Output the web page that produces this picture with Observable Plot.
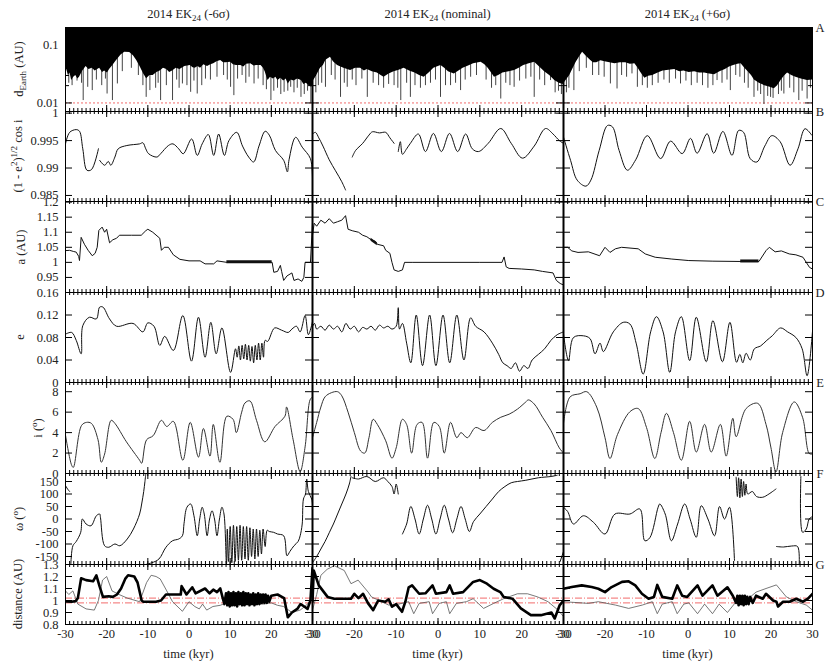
<!DOCTYPE html>
<html><head><meta charset="utf-8">
<script src="https://cdn.jsdelivr.net/npm/d3@7"></script>
<script src="https://cdn.jsdelivr.net/npm/@observablehq/plot@0.6"></script>
<style>
body{margin:0;background:#fff;}
#chart{position:relative;width:830px;height:665px;font-family:"Liberation Serif","Times New Roman",serif;color:#222;overflow:hidden;}
.lbl{position:absolute;font-size:12.5px;white-space:nowrap;line-height:1;transform:translate(-50%,-50%);}
.ylab{position:absolute;font-size:12.5px;white-space:nowrap;line-height:1;transform:translate(-50%,-50%) rotate(-90deg);}
sub,sup{font-size:72%;line-height:0;}
</style></head><body><div id="chart"></div><script>
// ---------- tick values ----------
const X_MAJOR = [-30,-20,-10,0,10,20,30];
const X_MINOR = d3.range(-30,31,1);
const YT_A = [0.01,0.1];
const YT_A_MINOR = [0.02,0.03,0.04,0.05,0.06,0.07,0.08,0.09,0.2];
const YT_B = [0.985,0.99,0.995,1];
const YT_C = [0.95,1,1.05,1.1,1.15,1.2];
const YT_D = [0,0.04,0.08,0.12,0.16];
const YT_E = [0,2,4,6,8];
const YT_F = [-150,-100,-50,0,50,100,150];
const YT_G = [0.8,0.9,1,1.1,1.2,1.3];
const TITLES = ["2014 EK<sub>24</sub> (-6σ)","2014 EK<sub>24</sub> (nominal)","2014 EK<sub>24</sub> (+6σ)"];
const YLABELS = ["d<sub>Earth</sub> (AU)","(1 - e<sup>2</sup>)<sup>1/2</sup> cos i","a (AU)","e","i (<sup>o</sup>)","ω (<sup>o</sup>)","distance (AU)"];
const ROWLETTERS = ["A","B","C","D","E","F","G"];
const N = NaN;

// ---------- A: distance to Earth (lower envelope + close-approach spikes) ----------
const aEnvL = [[-30,0.0448],[-29.6,0.036],[-29.3,0.03],[-28.9,0.033],[-28.5,0.0245],[-28,0.028],[-27.5,0.03],[-27,0.026],[-26.6,0.028],[-25.8,0.036],[-25,0.043],[-24.3,0.038],[-23.5,0.04],[-22.8,0.036],[-21.7,0.04],[-21,0.034],[-20.5,0.036],[-19.8,0.033],[-19.3,0.038],[-18.5,0.045],[-17.6,0.0547],[-16.5,0.068],[-15.6,0.0764],[-14.4,0.075],[-13.5,0.066],[-12.7,0.0547],[-11.9,0.043],[-11,0.032],[-10.3,0.0263],[-9.5,0.03],[-8.7,0.03],[-7.8,0.034],[-7,0.036],[-6.2,0.04],[-5.4,0.038],[-4.7,0.034],[-4,0.036],[-3.1,0.04],[-2.2,0.038],[-1,0.043],[0.3,0.0448],[1,0.041],[1.5,0.04],[2.2,0.043],[2.8,0.04],[3.6,0.046],[4.5,0.043],[5.3,0.046],[6,0.048],[6.8,0.052],[7.7,0.0547],[8.4,0.05],[9,0.05],[10.1,0.051],[10.8,0.046],[11.5,0.045],[12.6,0.0448],[13.3,0.042],[14,0.047],[15,0.048],[15.8,0.044],[16.5,0.045],[17.5,0.0448],[18.1,0.04],[18.5,0.035],[19.2,0.0245],[19.8,0.028],[20.5,0.026],[21.1,0.028],[21.6,0.0245],[22.3,0.027],[23,0.024],[23.6,0.026],[24.1,0.0214],[24.8,0.025],[25.5,0.024],[26.4,0.026],[27.3,0.0245],[27.9,0.021],[28.5,0.022],[29.2,0.02],[29.8,0.0188],[30,0.02]];
const aSpkL = [[-29.2,0.022],[-28.4,0.02],[-27.2,0.024],[-26.1,0.022],[-25.7,0.011],[-24.6,0.0187],[-23.5,0.0164],[-22.5,0.025],[-21.2,0.02],[-20.3,0.026],[-19.9,0.0143],[-18.6,0.011],[-17.4,0.0214],[-16.2,0.035],[-14,0.04],[-12.3,0.03],[-11.2,0.02],[-10.4,0.0125],[-9.5,0.0164],[-8.1,0.018],[-7.5,0.022],[-6.9,0.011],[-5.5,0.02],[-4,0.011],[-3,0.025],[-2.4,0.018],[-1.6,0.0214],[-0.5,0.02],[0.4,0.0153],[1.2,0.024],[2,0.0143],[3.1,0.02],[4,0.026],[5.2,0.025],[6.8,0.028],[8.4,0.03],[9.3,0.025],[10.1,0.0187],[10.9,0.0134],[11.8,0.026],[12.9,0.03],[13.8,0.022],[14.6,0.028],[15.8,0.0214],[16.8,0.026],[18,0.02],[18.8,0.017],[19.9,0.011],[20.6,0.016],[21.5,0.018],[22.3,0.014],[23.1,0.0153],[24,0.016],[24.7,0.0187],[25.5,0.015],[26.3,0.018],[27.2,0.0125],[28,0.014],[28.8,0.016],[29.6,0.0098]];
const aEnvM = [[-30,0.03],[-29.7,0.0245],[-29,0.03],[-28.1,0.04],[-27.4,0.045],[-26.8,0.055],[-25.7,0.0626],[-25,0.052],[-24,0.045],[-23.2,0.042],[-22.5,0.04],[-21.6,0.038],[-20.9,0.0366],[-19.7,0.04],[-18.5,0.04],[-17.6,0.036],[-16.9,0.038],[-15.7,0.035],[-14.5,0.033],[-13.6,0.03],[-12.9,0.028],[-11.7,0.032],[-10.5,0.035],[-9.3,0.037],[-8.1,0.04],[-6.8,0.036],[-5.5,0.033],[-4.4,0.03],[-3.3,0.028],[-2,0.034],[-1,0.04],[0.7,0.0448],[1.6,0.04],[2.5,0.035],[3.9,0.032],[5,0.036],[6,0.04],[7.3,0.044],[8.5,0.048],[10.3,0.051],[11.2,0.046],[12,0.04],[12.8,0.033],[13.5,0.028],[14.5,0.03],[15.5,0.033],[17,0.035],[18.3,0.0366],[19.4,0.04],[20.5,0.045],[21.8,0.048],[23.1,0.051],[24.3,0.042],[25.5,0.035],[26.7,0.03],[27.9,0.0245],[29,0.022],[30,0.021]];
const aSpkM = [[-29.2,0.015],[-28.6,0.02],[-27.8,0.022],[-26.9,0.0187],[-25.5,0.03],[-24.6,0.025],[-23.3,0.0125],[-22.4,0.022],[-21.7,0.0187],[-20.5,0.025],[-19.6,0.02],[-18.2,0.026],[-16.9,0.0125],[-15.5,0.022],[-14.2,0.02],[-13,0.018],[-11.8,0.021],[-10.5,0.02],[-9.6,0.018],[-8.9,0.011],[-7.5,0.022],[-6.6,0.0125],[-5.5,0.02],[-4.2,0.018],[-3,0.02],[-1.8,0.022],[-0.6,0.025],[0.6,0.0125],[1.8,0.02],[3,0.02],[4.2,0.022],[5.4,0.0164],[6.5,0.025],[7.8,0.028],[9.2,0.03],[11.5,0.025],[12.8,0.018],[13.8,0.02],[15,0.0117],[16.2,0.022],[17.2,0.02],[18.2,0.0187],[19.5,0.024],[21,0.026],[22.2,0.028],[23,0.0125],[24.3,0.025],[25.5,0.02],[26.9,0.0245],[28,0.015],[28.8,0.016],[29.5,0.014]];
const aEnvR = [[-30,0.0214],[-29.3,0.025],[-28.5,0.03],[-27.8,0.038],[-27,0.05],[-26.2,0.062],[-25.4,0.0764],[-24.5,0.065],[-23.5,0.055],[-22.8,0.05],[-22,0.05],[-21,0.054],[-20,0.052],[-18.8,0.05],[-17.6,0.048],[-16.3,0.05],[-15,0.05],[-13.9,0.047],[-12.8,0.048],[-12,0.04],[-11.5,0.035],[-10.4,0.027],[-9.5,0.029],[-8.5,0.03],[-7.2,0.033],[-6,0.036],[-4.6,0.037],[-3.2,0.038],[-2,0.035],[-1,0.036],[0.3,0.034],[1.6,0.035],[2.8,0.033],[4,0.033],[5.2,0.032],[6.4,0.031],[7.7,0.035],[9,0.038],[10,0.042],[11,0.045],[12,0.047],[12.8,0.048],[13.7,0.04],[14.5,0.035],[15.3,0.03],[16,0.025],[17.2,0.022],[18.5,0.02],[19.6,0.019],[20.8,0.0176],[21.6,0.02],[22.5,0.025],[23.2,0.029],[24,0.033],[25,0.03],[26,0.028],[27.3,0.026],[28.8,0.0245],[30,0.025]];
const aSpkR = [[-29.3,0.015],[-28.7,0.018],[-27.5,0.0164],[-26.2,0.035],[-24.5,0.04],[-23,0.03],[-21.5,0.03],[-20.2,0.028],[-18.7,0.0214],[-17.1,0.0175],[-16,0.03],[-14.8,0.028],[-13.5,0.032],[-12.2,0.0187],[-11,0.02],[-9.8,0.018],[-8.6,0.02],[-7.2,0.022],[-5.8,0.025],[-4.5,0.022],[-3,0.026],[-1.8,0.0214],[-0.5,0.024],[0.8,0.02],[2.2,0.022],[3.5,0.02],[4.8,0.018],[6,0.02],[7,0.0245],[8.2,0.022],[9.4,0.025],[10.2,0.0164],[11.5,0.03],[12.5,0.028],[13.6,0.022],[14.5,0.018],[15.9,0.0125],[16.8,0.016],[17.5,0.014],[18.3,0.0094],[19.2,0.013],[19.9,0.0125],[20.5,0.012],[21.8,0.014],[22.5,0.016],[23.1,0.0143],[24.5,0.018],[25.5,0.015],[26.7,0.011],[27.5,0.016],[28.7,0.0117],[29.5,0.018]];
const aLimit = [0.01];

// ---------- B: (1-e^2)^1/2 cos i ----------
const bL = [[-30,0.9944],[-29,0.9965],[-27.4,0.997],[-26.6,0.9967],[-25.8,0.9935],[-24.8,0.9896],[-23.7,0.9897],[-22,0.9935],[-21.9,N],[-21.7,0.9914],[-20.5,0.9905],[-19.6,0.9912],[-19,0.9905],[-18,0.992],[-17.2,0.9935],[-15.1,0.9941],[-12,0.9944],[-11.2,0.9946],[-10.5,0.9935],[-9.8,0.9926],[-7.8,0.992],[-6.9,0.9926],[-5,0.9941],[-3.9,0.9944],[-2.5,0.9935],[-1.4,0.9926],[0.65,0.9953],[2,0.9923],[3.2,0.9944],[4.7,0.9961],[6,0.9923],[7.2,0.9962],[8.6,0.9923],[9.7,0.995],[11.6,0.9965],[13,0.994],[14.5,0.992],[15.7,0.9911],[17,0.994],[18.5,0.9967],[19.5,0.996],[21,0.9932],[23,0.9914],[23.9,0.9893],[24.3,0.9915],[25.9,0.9956],[27.5,0.9938],[29.5,0.9917],[30,0.988]];
const bM = [[-30,0.9962],[-29.3,0.9965],[-28.5,0.9955],[-27.5,0.994],[-26,0.9915],[-24.5,0.9895],[-23,0.9875],[-22.1,0.986],[-21.8,N],[-20.5,0.992],[-19.7,0.9932],[-18,0.9945],[-16.5,0.996],[-15.7,0.9966],[-14,0.9964],[-12.5,0.9965],[-11.5,0.9955],[-10.5,0.9945],[-10,N],[-9.5,0.993],[-9,0.9948],[-8.5,0.9925],[-7.5,0.9935],[-6.6,0.9945],[-4.7,0.9962],[-3,0.993],[-1.1,0.9963],[0.8,0.993],[2.75,0.9963],[4.7,0.993],[6.6,0.9962],[8.2,0.9935],[9.7,0.993],[12,0.9945],[15,0.9972],[17.5,0.9945],[20.2,0.9918],[23,0.994],[25.7,0.9972],[27.5,0.9962],[29,0.995],[30,0.9945]];
const bR = [[-30,0.99563],[-28.3,0.9914],[-26.7,0.98779],[-24.6,0.9867],[-23.4,0.9878],[-21.4,0.99322],[-19.4,0.99775],[-18.2,0.9975],[-16.6,0.9932],[-14.6,0.9896],[-12.6,0.9915],[-9.8,0.9959],[-6.6,0.99172],[-4.2,0.9949],[-1.4,0.99263],[0.6,0.9954],[2.2,0.9927],[4.6,0.99625],[6.2,0.9927],[8.4,0.99667],[10.6,0.99232],[12.2,0.99685],[13.4,0.9965],[15,0.9917],[16.6,0.9911],[18.5,0.994],[20.2,0.9959],[22.2,0.9948],[24.6,0.99051],[26.5,0.9935],[28.2,0.99716],[29.8,0.996]];

// ---------- C: semi-major axis ----------
const cL = [[-30,1.039],[-29,1.04],[-28,1.036],[-27.4,1.034],[-26.8,1.02],[-26.6,1.006],[-26.2,1.083],[-25.4,1.06],[-24.5,1.04],[-23.5,1.022],[-22.8,1.03],[-22.3,1.05],[-21.9,1.106],[-21.1,1.117],[-20.5,1.1],[-20,1.11],[-19.3,1.065],[-18.5,1.075],[-17.6,1.08],[-16.9,1.09],[-14,1.09],[-11.6,1.09],[-10.5,1.105],[-10,1.11],[-8.8,1.1],[-7.1,1.08],[-6.7,1.04],[-6,1.05],[-5,1.05],[-3.8,1.025],[-2.2,1.01],[0,1.005],[2.7,1.005],[3.9,0.995],[6,0.995],[6.8,1.005],[9.2,1.0],[20.2,1.0],[20.6,0.967],[21.5,0.97],[22.2,0.99],[22.5,0.97],[23,0.94],[23.8,0.955],[25,0.965],[25.5,0.94],[26.5,0.945],[27.4,0.937],[27.9,0.95],[28.2,1.0],[29.5,1.0],[30,1.13]];
const cBandL = [[9.2,0.995,1.005],[20.2,0.995,1.005]];
const cM = [[-30,1.09],[-29.6,1.13],[-29,1.12],[-28,1.14],[-27,1.13],[-26,1.145],[-25,1.13],[-24,1.135],[-23,1.14],[-22.1,1.155],[-21.5,1.11],[-20.5,1.105],[-19,1.1],[-18,1.09],[-17,1.085],[-16,1.075],[-15,1.07],[-14.5,1.06],[-13,1.055],[-12.5,1.04],[-11.5,1.03],[-11,1.0],[-10.5,0.975],[-9.5,0.97],[-8.5,0.975],[-8,1.0],[-6,1.0],[0,1.0],[10,1.0],[15.3,1.0],[15.8,1.018],[16.3,0.985],[17,0.98],[20,0.978],[23,0.975],[25,0.97],[27.5,0.965],[28.3,0.94],[29.2,0.93],[30,0.925]];
const cBandM = [[-16,1.07,1.08],[-14.5,1.055,1.065]];
const cR = [[-30,1.05],[-29,1.05],[-28,1.038],[-26.5,1.033],[-24,1.035],[-21.3,1.022],[-20,1.05],[-18.8,1.033],[-17.5,1.045],[-16,1.05],[-12,1.045],[-10.3,1.028],[-7.9,1.017],[-3.9,1.011],[0.2,1.006],[6,1.004],[12.3,1.003],[17.1,1.003],[18.8,1.039],[19.6,1.05],[21,1.035],[22.5,1.038],[24.4,1.028],[26,1.025],[27.7,1.017],[28.5,1.0],[29.3,0.983],[30,0.978]];
const cBandR = [[12.7,0.998,1.008],[17.1,0.998,1.008]];

// ---------- D: eccentricity ----------
const dL = [[-30,0.086],[-28.5,0.089],[-27.4,0.075],[-26.2,0.051],[-25.8,0.101],[-24.2,0.116],[-22.5,0.113],[-21.7,0.134],[-20.9,0.134],[-19.3,0.113],[-17.6,0.1],[-13.6,0.105],[-11.2,0.09],[-10,0.106],[-8.5,0.1],[-7.1,0.066],[-5.9,0.082],[-3.8,0.057],[-1.5,0.119],[0.6,0.038],[2.3,0.116],[3.9,0.045],[5.3,0.107],[6.6,0.051],[8,0.097],[10.1,0.018],[11.3,0.06],[11.7,0.045],[12.1,0.065],[12.5,0.04],[12.9,0.066],[13.3,0.042],[13.7,0.068],[14.1,0.04],[14.5,0.066],[14.9,0.038],[15.3,0.064],[15.7,0.035],[16.1,0.066],[16.5,0.04],[16.9,0.07],[17.3,0.04],[17.7,0.07],[18.1,0.045],[18.5,0.075],[19.1,0.073],[20.8,0.097],[22.5,0.093],[24.1,0.089],[25,0.095],[26.1,0.1],[27,0.09],[28.2,0.119],[29,0.085],[30,0.108]];
const dM = [[-30,0.1],[-29.5,0.105],[-29,0.095],[-28,0.1],[-27,0.093],[-26,0.102],[-25,0.095],[-24,0.1],[-23,0.09],[-22,0.105],[-21,0.095],[-20,0.1],[-19,0.09],[-18,0.098],[-17,0.095],[-16,0.1],[-15,0.093],[-14,0.102],[-13,0.097],[-12,0.1],[-11,0.095],[-10,0.1],[-9.5,0.133],[-9.2,0.095],[-8.5,0.105],[-7.5,0.07],[-6.5,0.035],[-5.2,0.12],[-3.7,0.03],[-2,0.12],[-0.5,0.03],[1.2,0.12],[2.8,0.035],[4.5,0.12],[6.2,0.04],[7.8,0.115],[9,0.1],[11,0.09],[13,0.07],[14.5,0.05],[15.5,0.035],[16.5,0.03],[17.5,0.025],[18.5,0.035],[19.5,0.02],[20.5,0.03],[21.5,0.025],[22.5,0.04],[24,0.05],[25.5,0.06],[27,0.075],[28.5,0.085],[30,0.09]];
const dR = [[-30,0.086],[-28.8,0.039],[-27.6,0.08],[-25.2,0.083],[-23.6,0.078],[-22.4,0.051],[-21.2,0.07],[-20.4,0.055],[-18,0.09],[-15.6,0.107],[-14,0.104],[-12.5,0.07],[-10.8,0.015],[-9,0.09],[-7.6,0.117],[-6,0.09],[-4.4,0.018],[-3,0.09],[-1.6,0.117],[0.4,0.039],[2,0.116],[4.4,0.037],[6,0.11],[8.3,0.037],[10.1,0.107],[11.7,0.036],[12.5,0.05],[13.2,0.035],[14,0.052],[15,0.04],[16,0.06],[17.5,0.065],[19,0.075],[20.3,0.083],[22.3,0.097],[24,0.09],[26,0.08],[27.5,0.06],[28.7,0.012],[30,0.091]];

// ---------- E: inclination ----------
const eL = [[-30,3.75],[-28.5,0.8],[-28.1,0.6],[-26.1,4.7],[-24.9,5.0],[-23.7,4.9],[-22.1,3.3],[-21.3,1.1],[-20.5,1.9],[-18.9,5.2],[-18,4.9],[-15.2,3.1],[-12,1.3],[-11.5,1.0],[-10.3,3.3],[-8.7,3.7],[-6.7,5.2],[-5.4,4.6],[-3.8,5.1],[-1.5,1.3],[0.3,5.0],[2.3,1.6],[3.5,4.4],[5.1,1.7],[5.9,4.8],[7.5,1.1],[9.2,5.6],[10.7,5.3],[11.5,4.0],[12.8,6.0],[13.6,6.9],[14.8,7.1],[16.4,5.2],[18.4,3.1],[20.9,4.6],[23.3,5.6],[23.7,6.5],[25.3,3.3],[27,0.2],[28.2,2.6],[29.4,7.2],[30,7.5]];
const eM = [[-30,3.5],[-29,5],[-28,6.5],[-27,7.5],[-25.5,7.9],[-24,8],[-23,7.6],[-21.5,6],[-20,4],[-18.5,2.2],[-17.5,2.0],[-16.5,3.5],[-15.5,5.3],[-14.5,4.8],[-12.5,3.2],[-11,1.5],[-10,2.5],[-8.5,5.3],[-7.5,4.8],[-6.3,2.0],[-5,4.8],[-3.8,5.0],[-2.5,1.5],[-1,5.0],[0.3,4.6],[1.5,2.0],[3,5.0],[4.5,3.5],[5.5,4.0],[7,3.5],[9,4.5],[11,4.2],[13,5],[15,5.5],[17,5.8],[19,6.3],[21,7],[21.6,7.2],[23,6.8],[25,5.5],[27,4.2],[29,2.5],[30,2]];
const eR = [[-30,4.9],[-28.4,7.5],[-26,7.8],[-24.4,8.0],[-22,6.5],[-20,3.5],[-18.8,1.47],[-17,3.8],[-14,6.04],[-12,6.35],[-10,4.5],[-8,1.47],[-6.5,4],[-5.2,5.88],[-3.5,4],[-1.6,1.3],[0.4,5.1],[2,2.1],[4,4.8],[5.6,2.1],[7.8,4.8],[9.2,1.7],[10.8,5.4],[11.6,3.6],[14,6.35],[16.8,6.86],[18.8,4.8],[20,2.5],[21.2,0.16],[22.8,4],[25.6,7.0],[27.6,5.5],[29.2,1.96],[30,1.9]];

// ---------- F: argument of perihelion (wrapped) ----------
const fL = [[-30,134],[-29.5,120],[-29,110],[-28.9,N],[-28.7,-180],[-28.2,-107],[-27.4,-90],[-26.3,-53],[-25.9,0],[-25,-20],[-23.8,-27],[-22.5,13],[-21.7,20],[-21.5,5],[-20.5,-107],[-19.5,-113],[-18,-100],[-16.8,-107],[-15,-80],[-13.5,-40],[-12,20],[-11.5,60],[-11,110],[-10.7,150],[-10.5,180],[-10.4,N],[-10.2,-180],[-9,-175],[-7.3,-160],[-5.6,-113],[-4,-87],[-2.5,-80],[-1.6,-67],[-1.2,-17],[-0.5,47],[0.4,60],[1.2,13],[2,-67],[2.6,0],[3.2,47],[3.7,20],[4.4,-67],[5,0],[5.6,33],[6.2,0],[6.8,-67],[7.4,0],[8,47],[8.5,20],[9.1,-180],[9.3,-40],[9.6,-170],[10,-30],[10.4,-175],[10.8,-25],[11.2,-170],[11.6,-30],[12,-165],[12.4,-25],[12.8,-165],[13.2,-30],[13.6,-160],[14,-30],[14.4,-165],[14.8,-35],[15.2,-150],[15.6,-40],[16,-160],[16.4,-40],[16.8,-150],[17.2,-45],[17.6,-140],[18,-40],[18.5,-110],[19,-45],[19.5,-50],[20.5,-53],[21.5,-60],[23,-67],[23.8,-147],[24.5,-130],[25.5,-107],[26.5,-90],[27,-67],[27.5,-20],[27.8,80],[28.3,100],[28.6,160],[29,110],[29.8,80],[30,60]];
const fM = [[-30,-175],[-29,-150],[-28,-120],[-27,-90],[-26,-55],[-25,-20],[-24,20],[-23,60],[-22,100],[-21.2,140],[-20.8,170],[-20.6,N],[-20.5,165],[-19,160],[-17,170],[-15,150],[-13,165],[-12,150],[-11,130],[-10.5,100],[-10,140],[-9.5,100],[-9.3,N],[-8.5,-60],[-7.5,-20],[-6.5,50],[-5.5,0],[-4.5,-60],[-3.5,0],[-2.5,55],[-1.5,0],[-0.5,-60],[0.5,0],[1.5,55],[2.5,0],[3.5,-55],[4.5,0],[5.5,50],[6.5,0],[7.5,-50],[8.5,-10],[10,20],[11.5,50],[13,80],[14.5,110],[16,130],[17.5,145],[19,150],[21,155],[24,165],[27,170],[28.5,175],[29,N],[29.2,-170],[30,-130]];
const fR = [[-30,47],[-29,30],[-27.6,-20],[-25.2,13],[-22.8,-13],[-20,-60],[-17.6,20],[-14,20],[-11.6,40],[-10.4,-87],[-9.2,-75],[-7.2,47],[-6.8,60],[-5.5,20],[-4,-87],[-2.5,-20],[-0.8,60],[0.5,0],[2,-73],[3.2,53],[4.8,0],[6.4,-67],[7.6,50],[8.8,0],[10,47],[11.2,-166],[11.3,N],[11.6,167],[11.9,90],[12.2,165],[12.5,85],[12.8,160],[13.1,90],[13.4,150],[13.7,95],[14,140],[14.4,100],[15.5,110],[16.5,90],[18,87],[19.5,100],[21.2,120],[21.3,N],[21.3,-110],[23,-112],[25,-108],[26.4,-110],[26.8,-180],[26.9,N],[27.2,170],[27.6,-53],[28.5,-40],[29.2,0],[30,10]];

// ---------- G: distances (thick / thin) ----------
const gThickL = [[-30,0.992],[-28.5,0.99],[-27.5,0.995],[-27,1.02],[-26.2,1.185],[-25,1.17],[-23.3,1.16],[-22.5,1.21],[-21.7,1.115],[-20.9,1.03],[-19.5,1.035],[-18.5,1.03],[-17.5,1.05],[-16.5,1.1],[-15.5,1.18],[-14.8,1.21],[-13.3,1.2],[-12.5,1.15],[-11.5,1.0],[-11.1,0.99],[-8,0.99],[-6.8,1.0],[-5.6,1.05],[-3,1.05],[-2,1.05],[-1.8,1.12],[-0.6,1.05],[0.8,1.11],[1.6,1.06],[3.9,1.1],[5,1.06],[5.9,1.09],[6.8,1.07],[7.6,1.1],[8.2,1.02],[8.6,0.97],[9,1.06],[9.3,0.96],[9.6,1.07],[9.9,0.95],[10.2,1.06],[10.5,0.96],[10.8,1.07],[11.1,0.96],[11.4,1.06],[11.7,0.95],[12,1.07],[12.3,0.97],[12.6,1.06],[12.9,0.96],[13.2,1.07],[13.5,0.96],[13.8,1.06],[14.1,0.97],[14.4,1.06],[14.7,0.96],[15,1.05],[15.3,0.97],[15.6,1.06],[15.9,0.96],[16.2,1.05],[16.5,0.97],[16.8,1.06],[17.1,0.97],[17.4,1.05],[17.7,0.98],[18,1.05],[18.3,0.98],[18.6,1.05],[18.9,0.98],[19.2,1.04],[19.5,0.99],[20,1.04],[21.5,1.05],[23.1,1.02],[23.5,0.95],[24,0.86],[25,0.9],[26.3,0.93],[27.1,0.97],[28,0.95],[28.8,0.93],[29.5,1.0],[30,1.27]];
const gThinL = [[-30,1.08],[-29.2,1.05],[-28.2,1.08],[-27,0.97],[-25,0.93],[-23,0.92],[-22,1.0],[-21,1.17],[-20,1.2],[-18.7,1.08],[-17,1.05],[-15,1.02],[-12,0.99],[-10.3,1.15],[-9.2,1.21],[-8,1.2],[-7,1.18],[-5.4,1.08],[-4,0.99],[-1.6,0.91],[0,0.99],[1.4,0.95],[2.5,0.93],[3.3,0.97],[4.3,0.92],[5.8,0.95],[7.6,0.96],[9,0.98],[12,0.99],[15,0.98],[18,0.97],[20,0.98],[21.5,0.96],[23,0.95],[25,0.9],[27,0.92],[28.5,0.96],[30,1.02]];
const gThickM = [[-30,0.99],[-29.7,1.25],[-28.5,1.126],[-26.4,1.03],[-24.8,1.015],[-20.8,1.015],[-20,1.056],[-19,1.02],[-17.9,1.056],[-16.7,0.976],[-15.5,0.92],[-14.3,1.0],[-12.6,0.99],[-11.8,1.01],[-11,0.948],[-10,0.97],[-8.6,0.906],[-7.8,0.99],[-7,1.11],[-6.2,1.126],[-4.5,1.056],[-3,1.06],[-1.3,1.126],[-0.5,1.056],[2,1.07],[2.8,1.126],[3.6,1.056],[6,1.07],[8.4,1.155],[10,1.17],[11.7,1.14],[13.3,1.098],[14.9,1.07],[15.7,1.03],[17.8,1.015],[19.8,0.934],[22.2,0.878],[24.6,0.878],[27.1,0.9],[27.9,0.85],[29.1,0.962],[30,1.0]];
const gThinM = [[-30,0.92],[-29,1.05],[-28,1.21],[-26.5,1.26],[-24.8,1.29],[-22.4,1.25],[-20.8,1.14],[-19.1,1.17],[-16.7,1.07],[-15.9,1.03],[-13.5,0.99],[-11.8,0.962],[-9.4,0.97],[-7,0.99],[-5.8,0.89],[-4.5,0.976],[-2.1,0.99],[-1.3,0.89],[0.3,0.976],[2,0.99],[2.8,0.89],[4.4,0.976],[6.8,0.99],[8.4,1.015],[10.9,0.934],[13.3,0.976],[15.7,1.015],[19,1.056],[21.4,1.056],[23.8,1.03],[26.3,0.99],[28.7,0.92],[30,0.866]];
const gThickR = [[-30,1.098],[-28,1.112],[-25.6,1.126],[-23.2,1.112],[-21.6,1.098],[-20,1.07],[-18.4,1.112],[-15.9,1.155],[-14.3,1.16],[-12.7,1.126],[-11.1,1.056],[-9.5,1.015],[-8.2,1.03],[-7.4,1.13],[-6.2,1.03],[-3.8,1.015],[-2.6,1.126],[-1.4,1.04],[-0.2,1.03],[2.3,1.126],[3.5,1.04],[5.9,1.126],[7.1,1.04],[9.5,1.11],[10.8,1.04],[11.6,0.98],[11.9,1.04],[12.2,0.96],[12.5,1.04],[12.8,0.97],[13.1,1.04],[13.4,0.96],[13.7,1.04],[14,0.97],[14.3,1.03],[14.6,0.97],[15,1.03],[15.6,0.98],[16.4,1.04],[18,1.015],[18.8,1.056],[20.5,1.0],[21.3,0.99],[21.7,0.95],[22.9,0.99],[24.5,0.99],[26.1,1.015],[27.7,0.99],[28.9,1.015],[30,1.056]];
const gThinR = [[-30,0.99],[-24,0.976],[-21.6,0.99],[-17.5,0.962],[-14.3,0.934],[-11,0.962],[-8.6,0.99],[-7.4,0.89],[-6.2,0.97],[-3.8,0.99],[-2.6,0.89],[-1,0.97],[0.2,0.98],[2.3,0.89],[4,0.97],[5.9,0.89],[7.5,0.97],[9.5,0.9],[11.6,0.99],[14,1.0],[16.4,1.07],[18.8,1.1],[21.3,1.13],[23.7,1.03],[26.1,0.99],[28.5,0.962],[30,0.92]];
const gLimits = [1.02,0.98];

// ---------- layout ----------
const cols = [[65,247],[312,251],[563,249]];
const rows = [[27,84],[111,90],[201,91],[292,90],[382,91],[473,91],[564,60]];
const chart = document.getElementById("chart");
const px = d=>d[0], py = d=>d[1];
const RED = "#f26b6b";
const FONT = "Liberation Serif, Times New Roman, serif";
const EDGE = [-30];

function line(data, o={}) { return Plot.line(data, {x:px, y:py, stroke:"#111", strokeWidth:1, clip:true, ...o}); }
function band(data) { return Plot.areaY(data, {x:px, y1:d=>d[1], y2:d=>d[2], fill:"#111", clip:true}); }

function panel(ci, ri, y, yt, marks, yminor) {
  const [left,w] = cols[ci], [top,h] = rows[ri];
  const m = [...marks];
  m.push(Plot.tickX(X_MINOR, {x:d=>d, insetBottom:h-3, stroke:"#000"}));
  m.push(Plot.tickX(X_MINOR, {x:d=>d, insetTop:h-3, stroke:"#000"}));
  m.push(Plot.tickX(X_MAJOR, {x:d=>d, insetBottom:h-6, stroke:"#000"}));
  m.push(Plot.tickX(X_MAJOR, {x:d=>d, insetTop:h-6, stroke:"#000"}));
  m.push(Plot.tickY(yt, {y:d=>d, insetRight:w-7, stroke:"#000"}));
  m.push(Plot.tickY(yt, {y:d=>d, insetLeft:w-7, stroke:"#000"}));
  if (yminor) {
    m.push(Plot.tickY(yminor, {y:d=>d, insetRight:w-4, stroke:"#000", clip:true}));
    m.push(Plot.tickY(yminor, {y:d=>d, insetLeft:w-4, stroke:"#000", clip:true}));
  }
  m.push(Plot.frame({stroke:"#000", strokeWidth:1}));
  if (ci>0) m.push(Plot.ruleX(EDGE, {x:d=>d, stroke:"#000", strokeWidth:2}));
  if (ci===0) m.push(Plot.text(yt, {y:d=>d, frameAnchor:"left", dx:-7, textAnchor:"end", text:d=>String(d), fill:"#222", fontSize:12.5, fontFamily:FONT}));
  if (ri===6) m.push(Plot.text(X_MAJOR, {x:d=>d, frameAnchor:"bottom", dy:13, text:d=>String(d), fill:"#222", fontSize:12.5, fontFamily:FONT}));
  const svg = Plot.plot({
    width:w, height:h, margin:0,
    x:{domain:[-30,30], axis:null},
    y:{...y, axis:null},
    style:{overflow:"visible", fontFamily:FONT, fontSize:"12.5px", background:"none"},
    marks:m
  });
  svg.style.position="absolute"; svg.style.left=left+"px"; svg.style.top=top+"px";
  chart.appendChild(svg);
}

const Y_A = {type:"log", domain:[0.0071,0.205]};
const Y_B = {domain:[0.9839,1.0003]};
const Y_C = {domain:[0.9,1.202]};
const Y_D = {domain:[0,0.16]};
const Y_E = {domain:[0,8.9]};
const Y_F = {domain:[-182,182]};
const Y_G = {domain:[0.8,1.3]};

const envs = [[aEnvL,aSpkL],[aEnvM,aSpkM],[aEnvR,aSpkR]];
const Bs=[bL,bM,bR], Cs=[[cL,cBandL],[cM,cBandM],[cR,cBandR]], Ds=[dL,dM,dR], Es=[eL,eM,eR], Fs=[fL,fM,fR];
const Gs=[[gThickL,gThinL],[gThickM,gThinM],[gThickR,gThinR]];
const SMOOTH = {curve:"catmull-rom"};

for (let ci=0; ci<3; ci++) {
  const [env, spk] = envs[ci];
  panel(ci,0,Y_A,YT_A,[
    Plot.ruleY(aLimit, {y:d=>d, stroke:RED, strokeDasharray:"2,2"}),
    Plot.ruleX(spk, {x:px, y1:py, y2:()=>0.2, stroke:"#444", strokeWidth:1}),
    Plot.areaY(env, {x:px, y1:py, y2:()=>0.205, fill:"#000"})
  ], YT_A_MINOR);
  panel(ci,1,Y_B,YT_B,[line(Bs[ci], SMOOTH)]);
  panel(ci,2,Y_C,YT_C,[line(Cs[ci][0]), band(Cs[ci][1])]);
  panel(ci,3,Y_D,YT_D,[line(Ds[ci], SMOOTH)]);
  panel(ci,4,Y_E,YT_E,[line(Es[ci], {stroke:"#333", ...SMOOTH})]);
  panel(ci,5,Y_F,YT_F,[line(Fs[ci], SMOOTH)]);
  panel(ci,6,Y_G,YT_G,[
    Plot.ruleY(gLimits, {y:d=>d, stroke:RED, strokeDasharray:"7,2,1,2"}),
    line(Gs[ci][1], {stroke:"#555", strokeWidth:0.8}),
    line(Gs[ci][0], {stroke:"#000", strokeWidth:2.6})
  ]);
}

// ---------- HTML text ----------
function addText(html, x, y, cls="lbl") {
  const d = document.createElement("div"); d.className=cls; d.innerHTML=html;
  d.style.left=x+"px"; d.style.top=y+"px";
  chart.appendChild(d);
}
const colCenters = [188.5, 437.5, 687.5];
TITLES.forEach((t,i)=>addText(t, colCenters[i], 14));
colCenters.forEach(c=>addText("time (kyr)", c, 654));
const ylabX = [19,18,21,20,38,19,18];
YLABELS.forEach((t,i)=>addText(t, ylabX[i], rows[i][0]+rows[i][1]/2, "ylab"));
ROWLETTERS.forEach((t,i)=>addText(t, 820, rows[i][0]+1));
</script></body></html>
